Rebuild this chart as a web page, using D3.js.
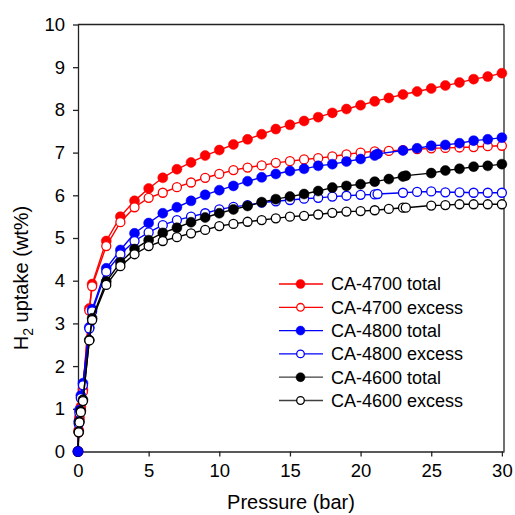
<!DOCTYPE html>
<html><head><meta charset="utf-8">
<script src="https://cdn.jsdelivr.net/npm/d3@7"></script>
<style>body{margin:0;background:#fff;} svg{display:block;font-family:"Liberation Sans",Arial,sans-serif;}</style>
</head><body>
<svg id="chart" width="515" height="515"></svg>
<script>
// ---- data ----
const pressure4700 = [0,0.05,0.1,0.2,0.35,0.8,1,2,3,4,5,6,7,8,9,10,11,12,13,14,15,16,17,18,19,20,21,22,23,24,25,26,27,28,29,30];
const pressure4800 = [0,0.05,0.1,0.2,0.35,0.8,1,2,3,4,5,6,7,8,9,10,11,12,13,14,15,16,17,18,19,20,21,21.2,23,24,25,26,27,28,29,30];
const pressure4600 = [0,0.05,0.1,0.2,0.35,0.8,1,2,3,4,5,6,7,8,9,10,11,12,13,14,15,16,17,18,19,20,21,22,23,23.2,25,26,27,28,29,30];

const ca4700Total  = [0,0.5,0.8,1.05,1.45,3.35,3.92,4.93,5.50,5.87,6.16,6.41,6.61,6.77,6.93,7.06,7.19,7.31,7.43,7.55,7.65,7.74,7.83,7.93,8.02,8.11,8.20,8.28,8.36,8.43,8.50,8.57,8.64,8.72,8.78,8.86];
const ca4700Excess = [0,0.45,0.75,1.0,1.4,3.3,3.87,4.81,5.37,5.72,5.94,6.06,6.19,6.30,6.41,6.50,6.59,6.65,6.70,6.76,6.80,6.84,6.87,6.91,6.96,7.00,7.03,7.04,7.06,7.08,7.10,7.11,7.12,7.13,7.15,7.16];
const ca4800Total  = [0,0.7,0.97,1.31,1.6,2.91,3.33,4.29,4.72,5.11,5.35,5.58,5.72,5.87,6.01,6.12,6.22,6.33,6.42,6.50,6.57,6.62,6.69,6.73,6.79,6.85,6.93,6.97,7.05,7.10,7.16,7.18,7.22,7.28,7.31,7.35];
const ca4800Excess = [0,0.65,0.9,1.25,1.55,2.88,3.28,4.21,4.62,4.93,5.13,5.30,5.42,5.50,5.58,5.67,5.73,5.77,5.83,5.86,5.89,5.92,5.94,5.97,5.99,6.01,6.02,6.03,6.06,6.08,6.09,6.07,6.07,6.06,6.06,6.06];
const ca4600Total  = [0,0.46,0.70,0.95,1.21,2.61,3.12,3.98,4.43,4.74,4.95,5.12,5.24,5.37,5.48,5.58,5.67,5.75,5.84,5.91,5.97,6.03,6.10,6.18,6.22,6.26,6.32,6.38,6.44,6.46,6.52,6.58,6.62,6.67,6.69,6.73];
const ca4600Excess = [0,0.45,0.68,0.92,1.18,2.6,3.08,3.90,4.34,4.62,4.81,4.93,5.02,5.11,5.19,5.28,5.33,5.38,5.42,5.46,5.50,5.52,5.55,5.59,5.62,5.63,5.65,5.68,5.71,5.71,5.76,5.77,5.79,5.79,5.79,5.79];

const seriesNames = ["CA-4700 total","CA-4700 excess","CA-4800 total","CA-4800 excess","CA-4600 total","CA-4600 excess"];
const xTicks = [0,5,10,15,20,25,30];
const yTicks = [0,1,2,3,4,5,6,7,8,9,10];

const series = [
  {name: seriesNames[0], x: pressure4700, y: ca4700Total,  color: "#ff0000", filled: true},
  {name: seriesNames[1], x: pressure4700, y: ca4700Excess, color: "#ff0000", filled: false},
  {name: seriesNames[2], x: pressure4800, y: ca4800Total,  color: "#0000ff", filled: true},
  {name: seriesNames[3], x: pressure4800, y: ca4800Excess, color: "#0000ff", filled: false},
  {name: seriesNames[4], x: pressure4600, y: ca4600Total,  color: "#000000", filled: true},
  {name: seriesNames[5], x: pressure4600, y: ca4600Excess, color: "#000000", filled: false}
];

// ---- layout ----
const svg = d3.select("#chart");
const L = 78, R = 504, T = 24.5, B = 451.5;
const x = d3.scaleLinear().domain([0, 30.15]).range([L, R]);
const y = d3.scaleLinear().domain([0, 10]).range([B, T]);

// frame (top/right)
svg.append("line").attr("x1", L).attr("x2", R).attr("y1", T).attr("y2", T).attr("stroke", "#222").attr("stroke-width", 1.3);
svg.append("line").attr("x1", R).attr("x2", R).attr("y1", T).attr("y2", B).attr("stroke", "#222").attr("stroke-width", 1.3);

const xAxis = svg.append("g").attr("transform", `translate(0,${B})`)
  .call(d3.axisBottom(x).tickValues(xTicks).tickSize(5).tickPadding(7).tickSizeOuter(0));
const yAxis = svg.append("g").attr("transform", `translate(${L},0)`)
  .call(d3.axisLeft(y).tickValues(yTicks).tickSize(5).tickPadding(8).tickSizeOuter(0));
[xAxis, yAxis].forEach(g => {
  g.selectAll("path,line").attr("stroke", "#222").attr("stroke-width", 1.3);
  g.selectAll("text").attr("font-size", 18.5).attr("fill", "#000").attr("font-family", "Liberation Sans, Arial, sans-serif");
});

// axis titles
svg.append("text").attr("x", (L + R) / 2).attr("y", 509).attr("text-anchor", "middle")
  .attr("font-size", 20).text("Pressure (bar)");
const yt = svg.append("text").attr("transform", "translate(28,278) rotate(-90)").attr("text-anchor", "middle").attr("font-size", 20);
yt.append("tspan").text("H");
yt.append("tspan").attr("font-size", 14).attr("dy", 5).text("2");
yt.append("tspan").attr("dy", -5).text(" uptake (wt%)");

// series
const line = d3.line().x(d => x(d[0])).y(d => y(d[1]));
function addMarkers(g, s, pts) {
  g.selectAll(null).data(pts).join("circle")
    .attr("cx", d => x(d[0])).attr("cy", d => y(d[1]))
    .attr("r", s.filled ? 5 : 4.5)
    .attr("fill", s.filled ? s.color : "#fff")
    .attr("stroke", s.color).attr("stroke-width", s.filled ? 0.5 : 1.3);
}
series.forEach(s => {
  const pts = s.x.map((p, i) => [p, s.y[i]]);
  const g = svg.append("g");
  g.append("path").datum(pts).attr("d", line).attr("fill", "none").attr("stroke", s.color).attr("stroke-width", 1.4);
  addMarkers(g, s, pts);
});
// origin marker of the CA-4800 total series sits on top in the reference
addMarkers(svg.append("g"), series[2], [[series[2].x[0], series[2].y[0]]]);

// legend
const lg = svg.append("g");
series.forEach((s, i) => {
  const yy = 284 + i * 23.3;
  lg.append("line").attr("x1", 279).attr("x2", 323).attr("y1", yy).attr("y2", yy)
    .attr("stroke", s.color).attr("stroke-width", 1.3).attr("opacity", s.color === "#000000" ? 0.75 : 1);
  lg.append("circle").attr("cx", 300.5).attr("cy", yy).attr("r", s.filled ? 4.5 : 3.8)
    .attr("fill", s.filled ? s.color : "#fff").attr("stroke", s.color).attr("stroke-width", s.filled ? 0.5 : 1.3);
  lg.append("text").attr("x", 331).attr("y", yy + 6.3).attr("font-size", 18).text(s.name);
});
</script>
</body></html>
